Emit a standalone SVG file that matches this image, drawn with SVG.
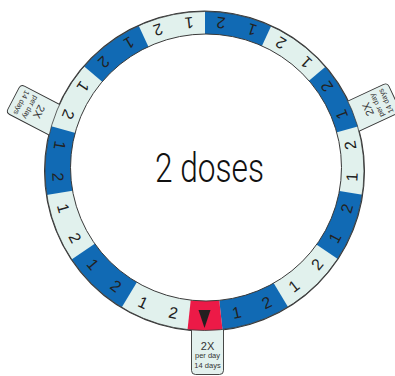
<svg xmlns="http://www.w3.org/2000/svg" xmlns:xlink="http://www.w3.org/1999/xlink" width="395" height="376" viewBox="0 0 395 376">
<style>
.light{fill:#e1f1ed}
.blue{fill:#116ab4}
.red{fill:#ec1a47}
.num{font-family:"Liberation Sans",Arial,sans-serif;font-size:16px;fill:#222;text-anchor:middle}
.tab{fill:#e3f1ee;stroke:#333;stroke-width:0.9}
.t1{font-family:"Liberation Sans",Arial,sans-serif;font-size:11px;fill:#333;text-anchor:middle}
.t2{font-family:"Liberation Sans",Arial,sans-serif;font-size:7.5px;fill:#333;text-anchor:middle}
.edge{fill:none;stroke:#3a3a3a}
</style>
<defs>
<clipPath id="ringclip"><path clip-rule="evenodd" d="M45 171A159.5 159.5 0 1 0 364 171A159.5 159.5 0 1 0 45 171ZM70.5 167.5A135.5 133.5 0 1 0 341.5 167.5A135.5 133.5 0 1 0 70.5 167.5Z"/></clipPath>
<path id="pw" d="M0 0L-44.02 200L44.02 200Z"/>
<path id="tabshape" d="M-16 -15L16 -15L16 40Q16 44 12 44L-12 44Q-16 44 -16 40Z"/>
</defs>
<rect width="395" height="376" fill="#fff"/>
<circle class="edge" cx="204.5" cy="171" r="159.5" stroke-width="2"/>
<g id="tab-bottom" transform="translate(207.5 330.5)">
<use xlink:href="#tabshape" class="tab"/>
<text class="t1" x="0" y="19">2X</text>
<text class="t2" x="0" y="27.5">per day</text>
<text class="t2" x="0" y="37.5">14 days</text>
</g>
<g id="tab-left" transform="translate(52.5 118.8) rotate(117.5)">
<use xlink:href="#tabshape" class="tab"/>
<text class="t1" x="0" y="19">2X</text>
<text class="t2" x="0" y="27.5">per day</text>
<text class="t2" x="0" y="37.5">14 days</text>
</g>
<g id="tab-right" transform="translate(354.2 115.8) rotate(-115)">
<use xlink:href="#tabshape" class="tab"/>
<text class="t1" x="0" y="19">2X</text>
<text class="t2" x="0" y="27.5">per day</text>
<text class="t2" x="0" y="37.5">14 days</text>
</g>
<g id="ring" clip-path="url(#ringclip)">
<rect class="light" x="0" y="0" width="395" height="376"/>
<g transform="translate(205 169)">
<use xlink:href="#pw" class="blue" transform="rotate(-18.621)"/>
<use xlink:href="#pw" class="blue" transform="rotate(-68.276)"/>
<use xlink:href="#pw" class="blue" transform="rotate(-117.931)"/>
<use xlink:href="#pw" class="blue" transform="rotate(-167.586)"/>
<use xlink:href="#pw" class="blue" transform="rotate(-217.241)"/>
<use xlink:href="#pw" class="blue" transform="rotate(-266.897)"/>
<use xlink:href="#pw" class="blue" transform="rotate(-316.552)"/>
<path class="red" d="M0 0L-21.75 200L21.75 200Z"/>
</g>
</g>
<circle class="edge" cx="204.5" cy="171" r="159.5" stroke-width="0.8"/>
<ellipse class="edge" cx="206" cy="167.5" rx="135.5" ry="133.5" stroke-width="1"/>
<path id="start-marker" d="M198.5 310L210.5 310L204.5 328Z" fill="#231f20"/>
<g id="labels">
<text class="num" x="205" y="321.7" transform="rotate(-12.414 205 169)">1</text>
<text class="num" x="205" y="321.7" transform="rotate(-24.828 205 169)">2</text>
<text class="num" x="205" y="321.7" transform="rotate(-37.241 205 169)">1</text>
<text class="num" x="205" y="321.7" transform="rotate(-49.655 205 169)">2</text>
<text class="num" x="205" y="321.7" transform="rotate(-62.069 205 169)">1</text>
<text class="num" x="205" y="321.7" transform="rotate(-74.483 205 169)">2</text>
<text class="num" x="205" y="321.7" transform="rotate(-86.897 205 169)">1</text>
<text class="num" x="205" y="321.7" transform="rotate(-99.310 205 169)">2</text>
<text class="num" x="205" y="321.7" transform="rotate(-111.724 205 169)">1</text>
<text class="num" x="205" y="321.7" transform="rotate(-124.138 205 169)">2</text>
<text class="num" x="205" y="321.7" transform="rotate(-136.552 205 169)">1</text>
<text class="num" x="205" y="321.7" transform="rotate(-148.966 205 169)">2</text>
<text class="num" x="205" y="321.7" transform="rotate(-161.379 205 169)">1</text>
<text class="num" x="205" y="321.7" transform="rotate(-173.793 205 169)">2</text>
<text class="num" x="205" y="321.7" transform="rotate(-186.207 205 169)">1</text>
<text class="num" x="205" y="321.7" transform="rotate(-198.621 205 169)">2</text>
<text class="num" x="205" y="321.7" transform="rotate(-211.034 205 169)">1</text>
<text class="num" x="205" y="321.7" transform="rotate(-223.448 205 169)">2</text>
<text class="num" x="205" y="321.7" transform="rotate(-235.862 205 169)">1</text>
<text class="num" x="205" y="321.7" transform="rotate(-248.276 205 169)">2</text>
<text class="num" x="205" y="321.7" transform="rotate(-260.690 205 169)">1</text>
<text class="num" x="205" y="321.7" transform="rotate(-273.103 205 169)">2</text>
<text class="num" x="205" y="321.7" transform="rotate(-285.517 205 169)">1</text>
<text class="num" x="205" y="321.7" transform="rotate(-297.931 205 169)">2</text>
<text class="num" x="205" y="321.7" transform="rotate(-310.345 205 169)">1</text>
<text class="num" x="205" y="321.7" transform="rotate(-322.759 205 169)">2</text>
<text class="num" x="205" y="321.7" transform="rotate(-335.172 205 169)">1</text>
<text class="num" x="205" y="321.7" transform="rotate(-347.586 205 169)">2</text>
</g>
<g id="title">
<text x="155" y="181.5" textLength="109" lengthAdjust="spacingAndGlyphs" style="font-family:Roboto,'Liberation Sans',sans-serif;font-weight:300;font-size:40px;fill:#111">2 doses</text>
</g>
</svg>
